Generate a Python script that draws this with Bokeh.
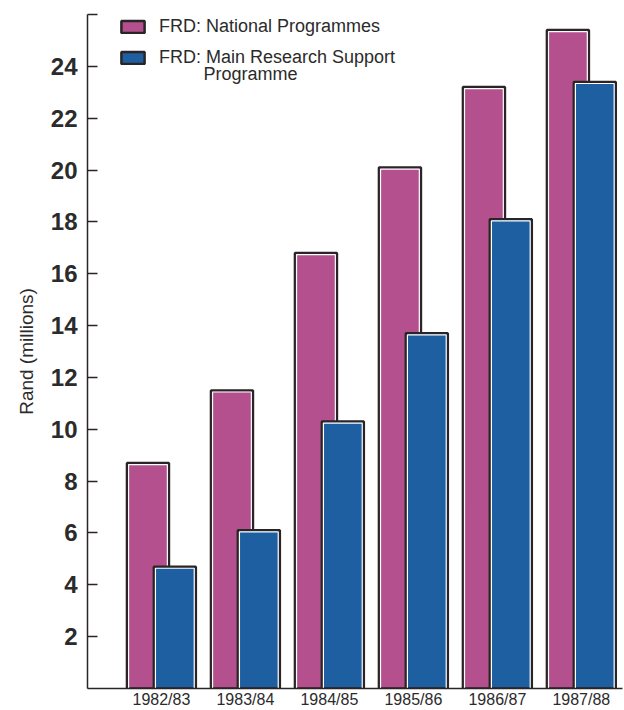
from bokeh.plotting import figure
from bokeh.models import FixedTicker, Range1d, Legend, LegendItem, Label
from bokeh.embed import file_html
from bokeh.resources import INLINE

# ---- data ----
years = ["1982/83", "1983/84", "1984/85", "1985/86", "1986/87", "1987/88"]
national = [8.7, 11.5, 16.8, 20.1, 23.2, 25.4]
main_support = [4.7, 6.1, 10.3, 13.7, 18.1, 23.4]
y_ticks = [2, 4, 6, 8, 10, 12, 14, 16, 18, 20, 22, 24]
series_names = ["FRD: National Programmes", "FRD: Main Research Support", "Programme"]

PINK = "#b3508d"
BLUE = "#1d5fa0"
DARK = "#2a2426"
TEXT = "#2b2b2b"
FONT = "Liberation Sans"

X0, X1 = -0.88, 5.49
Y0, Y1 = 0, 26
W, H = 624, 710
BL, BR, BT, BB = 87, 2, 14, 21
frame_w = W - BL - BR
frame_h = H - BT - BB
ux = (X1 - X0) / frame_w   # data units per px (x)
uy = (Y1 - Y0) / frame_h   # data units per px (y)

p = figure(width=W, height=H, output_backend="svg", toolbar_location=None,
           x_range=Range1d(X0, X1), y_range=Range1d(Y0, Y1),
           min_border_left=BL, min_border_right=BR, min_border_top=BT, min_border_bottom=BB)
p.outline_line_color = None
p.xgrid.visible = False
p.ygrid.visible = False
p.background_fill_color = "white"
p.border_fill_color = "white"

xs = list(range(len(years)))
off = 0.16
bw = 0.5
x_pink = [x - off for x in xs]
x_blue = [x + off for x in xs]

r_pink = p.vbar(x=x_pink, top=national, bottom=0, width=bw,
                fill_color=PINK, line_color=DARK, line_width=2.5)
p.vbar(x=x_pink, top=[v - 1.6 * uy for v in national], bottom=0, width=bw - 3.2 * ux,
       fill_color=None, line_color="white", line_width=1.2)
r_blue = p.vbar(x=x_blue, top=main_support, bottom=0, width=bw,
                fill_color=BLUE, line_color=DARK, line_width=2.5)
p.vbar(x=x_blue, top=[v - 1.6 * uy for v in main_support], bottom=0, width=bw - 3.2 * ux,
       fill_color=None, line_color="white", line_width=1.2)

# y axis
yax = p.yaxis[0]
yax.ticker = FixedTicker(ticks=y_ticks + [Y1])
yax.major_label_overrides = {Y1: ""}
yax.major_tick_in = 10
yax.major_tick_out = 0
yax.minor_tick_line_color = None
yax.major_tick_line_color = DARK
yax.major_tick_line_width = 1.5
yax.axis_line_color = DARK
yax.axis_line_width = 1.5
yax.major_label_standoff = 10
yax.major_label_text_font = FONT
yax.major_label_text_font_size = "24px"
yax.major_label_text_font_style = "bold"
yax.major_label_text_color = TEXT
yax.axis_label = "Rand (millions)"
yax.axis_label_text_font = FONT
yax.axis_label_text_font_size = "19px"
yax.axis_label_text_font_style = "normal"
yax.axis_label_text_color = TEXT
yax.axis_label_standoff = 11

# x axis
xax = p.xaxis[0]
xax.ticker = FixedTicker(ticks=xs)
xax.major_label_overrides = {x: y for x, y in zip(xs, years)}
xax.major_tick_in = 0
xax.major_tick_out = 0
xax.minor_tick_line_color = None
xax.axis_line_color = DARK
xax.axis_line_width = 1.5
xax.major_label_standoff = 2
xax.major_label_text_font = FONT
xax.major_label_text_font_size = "16px"
xax.major_label_text_color = TEXT

legend = Legend(items=[LegendItem(label=series_names[0], renderers=[r_pink]),
                       LegendItem(label=series_names[1], renderers=[r_blue])],
                location=(31, frame_h - 55), orientation="vertical",
                glyph_width=29, glyph_height=15, label_height=15, spacing=10,
                label_standoff=12, padding=0, margin=0,
                border_line_color=None, background_fill_alpha=0,
                label_text_font=FONT, label_text_font_size="18px",
                label_text_color=TEXT)
p.add_layout(legend)

p.add_layout(Label(x=116, y=frame_h - 60, x_units="screen", y_units="screen",
                   text=series_names[2], text_font=FONT, text_font_size="18px",
                   text_color=TEXT, text_baseline="middle", text_align="left"))

open("out.html", "w").write(file_html(p, INLINE))
